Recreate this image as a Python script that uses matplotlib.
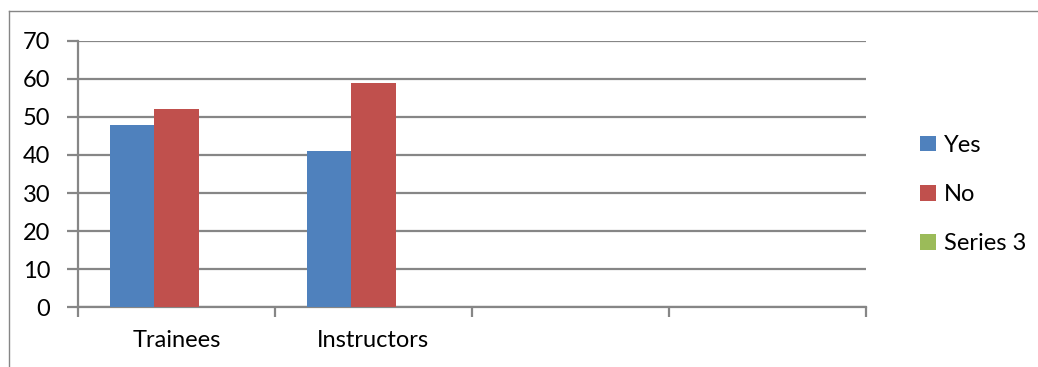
import matplotlib

matplotlib.use("Agg")
import matplotlib.pyplot as plt
import numpy as np
from matplotlib.patches import Patch

# Survey responses per group (Series 3 carries no values)
categories = ["Trainees", "Instructors", "", ""]
yes_values = [48, 41, 0, 0]
no_values = [52, 59, 0, 0]
series3_values = [0, 0, 0, 0]
series_names = ["Yes", "No", "Series 3"]
y_ticks = [0, 10, 20, 30, 40, 50, 60, 70]

colors = ["#4F81BD", "#C0504D", "#9BBB59"]
grid_color = "#868686"
font_size = 17

plt.rcParams["font.family"] = ["Lato", "DejaVu Sans"]

fig = plt.figure(figsize=(10.38, 3.67), dpi=100)
ax = fig.add_axes([0.0751, 0.1627, 0.759, 0.7263])

x = np.arange(len(categories))
width = 0.226
for offset, values, color in zip(
    (-width, 0, width), (yes_values, no_values, series3_values), colors
):
    ax.bar(x + offset, values, width, color=color, zorder=3)

ax.set_xlim(-0.5, len(categories) - 0.5)
ax.set_ylim(0, 70)
ax.set_yticks(y_ticks)
ax.yaxis.grid(True, color=grid_color, linewidth=1.6, zorder=0)

# Category boundaries get tick marks, labels sit at the centres
ax.set_xticks(np.arange(len(categories) + 1) - 0.5)
ax.set_xticklabels([])
ax.set_xticks(x, minor=True)
ax.set_xticklabels(categories, minor=True, fontsize=font_size)
ax.tick_params(axis="x", which="major", length=7, width=1.6, color=grid_color)
ax.tick_params(axis="x", which="minor", length=0, pad=16)
ax.tick_params(axis="y", length=8, width=1.6, color=grid_color, pad=12,
               labelsize=font_size)

for side in ("top", "right"):
    ax.spines[side].set_visible(False)
for side in ("left", "bottom"):
    ax.spines[side].set_color(grid_color)
    ax.spines[side].set_linewidth(1.6)

handles = [Patch(facecolor=c, edgecolor="none") for c in colors]
fig.legend(
    handles,
    series_names,
    loc="center left",
    bbox_to_anchor=(0.866, 0.47),
    frameon=False,
    fontsize=font_size,
    handlelength=0.65,
    handleheight=0.65,
    handletextpad=0.35,
    labelspacing=1.2,
)

# Outer chart border, open to the right and bottom
fig.add_artist(plt.Line2D([0.0087, 0.0087], [0, 0.97], color=grid_color,
                          linewidth=1.0, transform=fig.transFigure))
fig.add_artist(plt.Line2D([0.0087, 1.0], [0.97, 0.97], color=grid_color,
                          linewidth=1.0, transform=fig.transFigure))

fig.savefig("out.png", dpi=100)
